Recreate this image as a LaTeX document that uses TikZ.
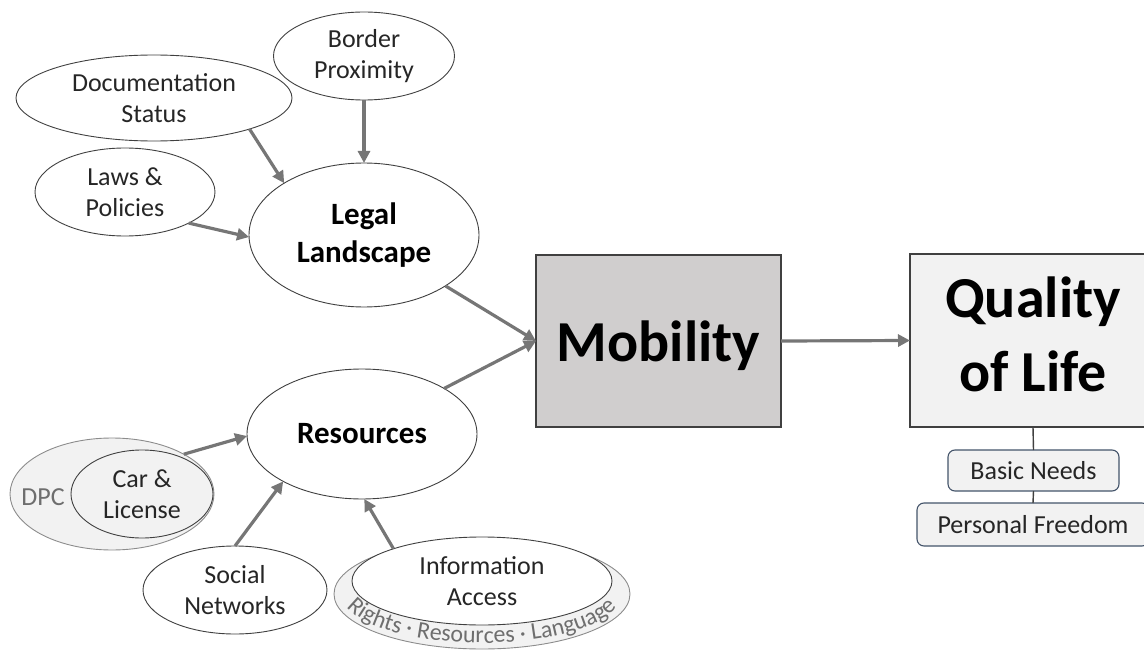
\documentclass[tikz,border=0pt]{standalone}
\usepackage{fontspec}
\setmainfont{Carlito}
\usetikzlibrary{shapes.geometric,arrows.meta,decorations.text}

\definecolor{arrowgray}{HTML}{767676}
\definecolor{edgegray}{HTML}{404040}
\definecolor{softgray}{HTML}{8C8C8C}
\definecolor{labelgray}{HTML}{6E6E6E}
\definecolor{textdark}{HTML}{262626}
\definecolor{mobfill}{HTML}{D0CECE}
\definecolor{palefill}{HTML}{F2F2F2}
\definecolor{slate}{HTML}{44546A}

\begin{document}
\begin{tikzpicture}[x=1pt,y=1pt,
  factor/.style={ellipse, draw=edgegray, line width=0.9pt, fill=white,
    inner sep=0pt, outer sep=0pt, align=center, text=textdark,
    font=\fontsize{26}{31}\selectfont},
  hub/.style={factor, text=black, font=\fontsize{31}{38}\selectfont\bfseries},
  halo/.style={ellipse, draw=softgray, line width=0.9pt, fill=palefill,
    inner sep=0pt, outer sep=0pt},
  bigbox/.style={rectangle, draw=edgegray, line width=1.3pt, inner sep=0pt,
    outer sep=0pt, align=center, font=\fontsize{58}{74}\selectfont\bfseries},
  tag/.style={rectangle, rounded corners=7pt, draw=slate, line width=1.1pt,
    fill=palefill, inner sep=0pt, outer sep=0pt, text=textdark,
    font=\fontsize{26}{31}\selectfont},
  flow/.style={draw=arrowgray, line width=3.2pt, -{Triangle[length=12pt,width=12pt]}},
  link/.style={draw=edgegray, line width=1.4pt}
]
\clip (0,0) rectangle (1144,-650);

% factors feeding the legal landscape
\node[factor, minimum width=181pt, minimum height=88pt] (border) at (364,-56) {Border\\Proximity};
\node[factor, minimum width=276pt, minimum height=86pt] (doc) at (154,-98) {Documentation\\Status};
\node[factor, minimum width=180pt, minimum height=88pt] (laws) at (125,-192) {Laws \&\\Policies};
\node[hub, minimum width=230pt, minimum height=144pt] (legal) at (364,-235) {Legal\\Landscape};

% resources and what they are made of
\node[hub, minimum width=230pt, minimum height=130pt] (res) at (362,-434) {Resources};
\node[halo, minimum width=204pt, minimum height=112pt] (dpc) at (112,-494) {};
\node[factor, fill=palefill, minimum width=142pt, minimum height=88pt] (car) at (142,-494) {Car \&\\License};
\node[text=labelgray, font=\fontsize{26}{31}\selectfont, inner sep=0pt] (dpclabel) at (43,-497) {DPC};
\node[factor, minimum width=184pt, minimum height=88pt] (social) at (235,-590) {Social\\Networks};
\node[halo, minimum width=296pt, minimum height=110pt] (infohalo) at (482,-594) {};
\node[factor, minimum width=260pt, minimum height=88pt] (info) at (482,-581) {Information\\Access};

% curved caption inside the information ring
\path[decorate, decoration={text along path, text align=center,
    text={|\fontsize{24}{28}\selectfont\color{labelgray}|Rights · Resources · Language}}]
  (infohalo.center) ++(185:140pt and 49pt)
  arc[start angle=185, end angle=355, x radius=140pt, y radius=49pt];

% outcome boxes
\node[bigbox, fill=mobfill, minimum width=245pt, minimum height=172pt, text depth=0pt] (mob) at (658.5,-341) {Mobility};
\node[bigbox, fill=palefill, minimum width=246pt, minimum height=173pt, text depth=13pt] (qol) at (1033,-340.5) {Quality\\of Life};
\node[tag, minimum width=171pt, minimum height=41pt] (basic) at (1033.5,-470.5) {Basic Needs};
\node[tag, minimum width=232pt, minimum height=43pt] (freedom) at (1033,-524.5) {Personal Freedom};

% influence arrows
\draw[flow] (border.south) -- (legal.north);
\draw[flow] (doc.-18) -- (legal.147);
\draw[flow] (laws.-26) -- (legal.181);
\draw[flow] (legal.-32) -- (mob.west);
\draw[flow] (res.29) -- (mob.west);
\draw[flow] (mob.east) -- (qol.west);
\draw[flow] (dpc.29) -- (res.181);
\draw[flow] (social.north) -- (res.211);
\draw[flow] (info.160) -- (res.-88);

% quality of life components
\draw[link] (qol.south) -- (basic.north);
\draw[link] (basic.south) -- (freedom.north);
\end{tikzpicture}
\end{document}
